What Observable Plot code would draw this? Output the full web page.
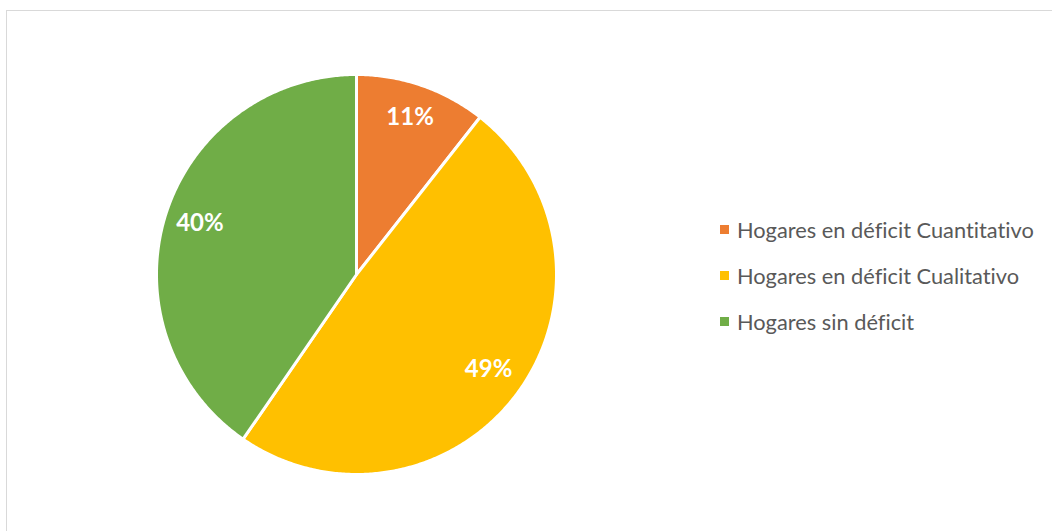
<!DOCTYPE html>
<html>
<head>
<meta charset="utf-8">
<script src="https://cdn.jsdelivr.net/npm/d3@7"></script>
<script src="https://cdn.jsdelivr.net/npm/@observablehq/plot@0.6"></script>
<style>
  html, body { margin: 0; padding: 0; background: #fff; }
  #wrap { position: relative; width: 1052px; height: 531px; overflow: hidden; font-family: Lato, "Open Sans", sans-serif; font-variant-ligatures: none; }
  #frame { position: absolute; left: 6px; top: 10px; width: 1100px; height: 600px; border: 1.5px solid #d9d9d9; box-sizing: border-box; }
  #chart { position: absolute; left: 0; top: 0; }
  #legend { position: absolute; left: 720px; top: 206px; color: #595959; font-size: 21.8px; }
  .row { display: flex; align-items: center; height: 46px; }
  .sw { width: 9px; height: 9px; margin-right: 8px; }
</style>
</head>
<body>
<div id="wrap">
  <div id="frame"></div>
  <div id="chart"></div>
  <div id="legend"></div>
</div>
<script>
// Data
const categories = ["Hogares en déficit Cuantitativo", "Hogares en déficit Cualitativo", "Hogares sin déficit"];
const shares = [10.6, 49.0, 40.4];
const colors = ["#ED7D31", "#FFC000", "#70AD47"];

const data = categories.map((c, i) => ({name: c, value: shares[i]}));
const arcs = d3.pie().sort(null).value(d => d.value)(data);

// Build slice outlines from pie angles (unit circle, 12 o'clock, clockwise)
const pts = [];
arcs.forEach(a => {
  const name = a.data.name;
  pts.push({name, x: 0, y: 0});
  const n = Math.max(2, Math.ceil((a.endAngle - a.startAngle) / (Math.PI / 360)));
  for (let k = 0; k <= n; k++) {
    const t = a.startAngle + (a.endAngle - a.startAngle) * k / n;
    pts.push({name, x: Math.sin(t), y: Math.cos(t)});
  }
});
const total = d3.sum(shares);
const labels = arcs.map(a => {
  const m = (a.startAngle + a.endAngle) / 2;
  return {name: a.data.name, x: 0.82 * Math.sin(m), y: 0.82 * Math.cos(m),
          text: Math.round(a.data.value / total * 100) + "%"};
});

const cx = 356, cy = 274, R = 200;
const chart = Plot.plot({
  width: 1052,
  height: 531,
  margin: 0,
  style: {background: "transparent", fontFamily: "Lato, 'Open Sans', sans-serif"},
  x: {domain: [-1, 1], range: [cx - R, cx + R], axis: null},
  y: {domain: [-1, 1], range: [cy + R, cy - R], axis: null},
  color: {domain: categories, range: colors},
  marks: [
    Plot.line(pts, {x: "x", y: "y", z: "name", fill: "name", stroke: "white", strokeWidth: 3,
                    strokeLinejoin: "round", curve: "linear-closed"}),
    Plot.text(labels, {x: "x", y: "y", dy: -2, text: "text", fill: "white", fontWeight: "bold", fontSize: 24})
  ]
});
document.getElementById("chart").appendChild(chart);

const legend = document.getElementById("legend");
categories.forEach((c, i) => {
  const row = document.createElement("div");
  row.className = "row";
  const sw = document.createElement("div");
  sw.className = "sw";
  sw.style.background = colors[i];
  const tx = document.createElement("span");
  tx.textContent = c;
  row.appendChild(sw); row.appendChild(tx);
  legend.appendChild(row);
});
</script>
</body>
</html>
